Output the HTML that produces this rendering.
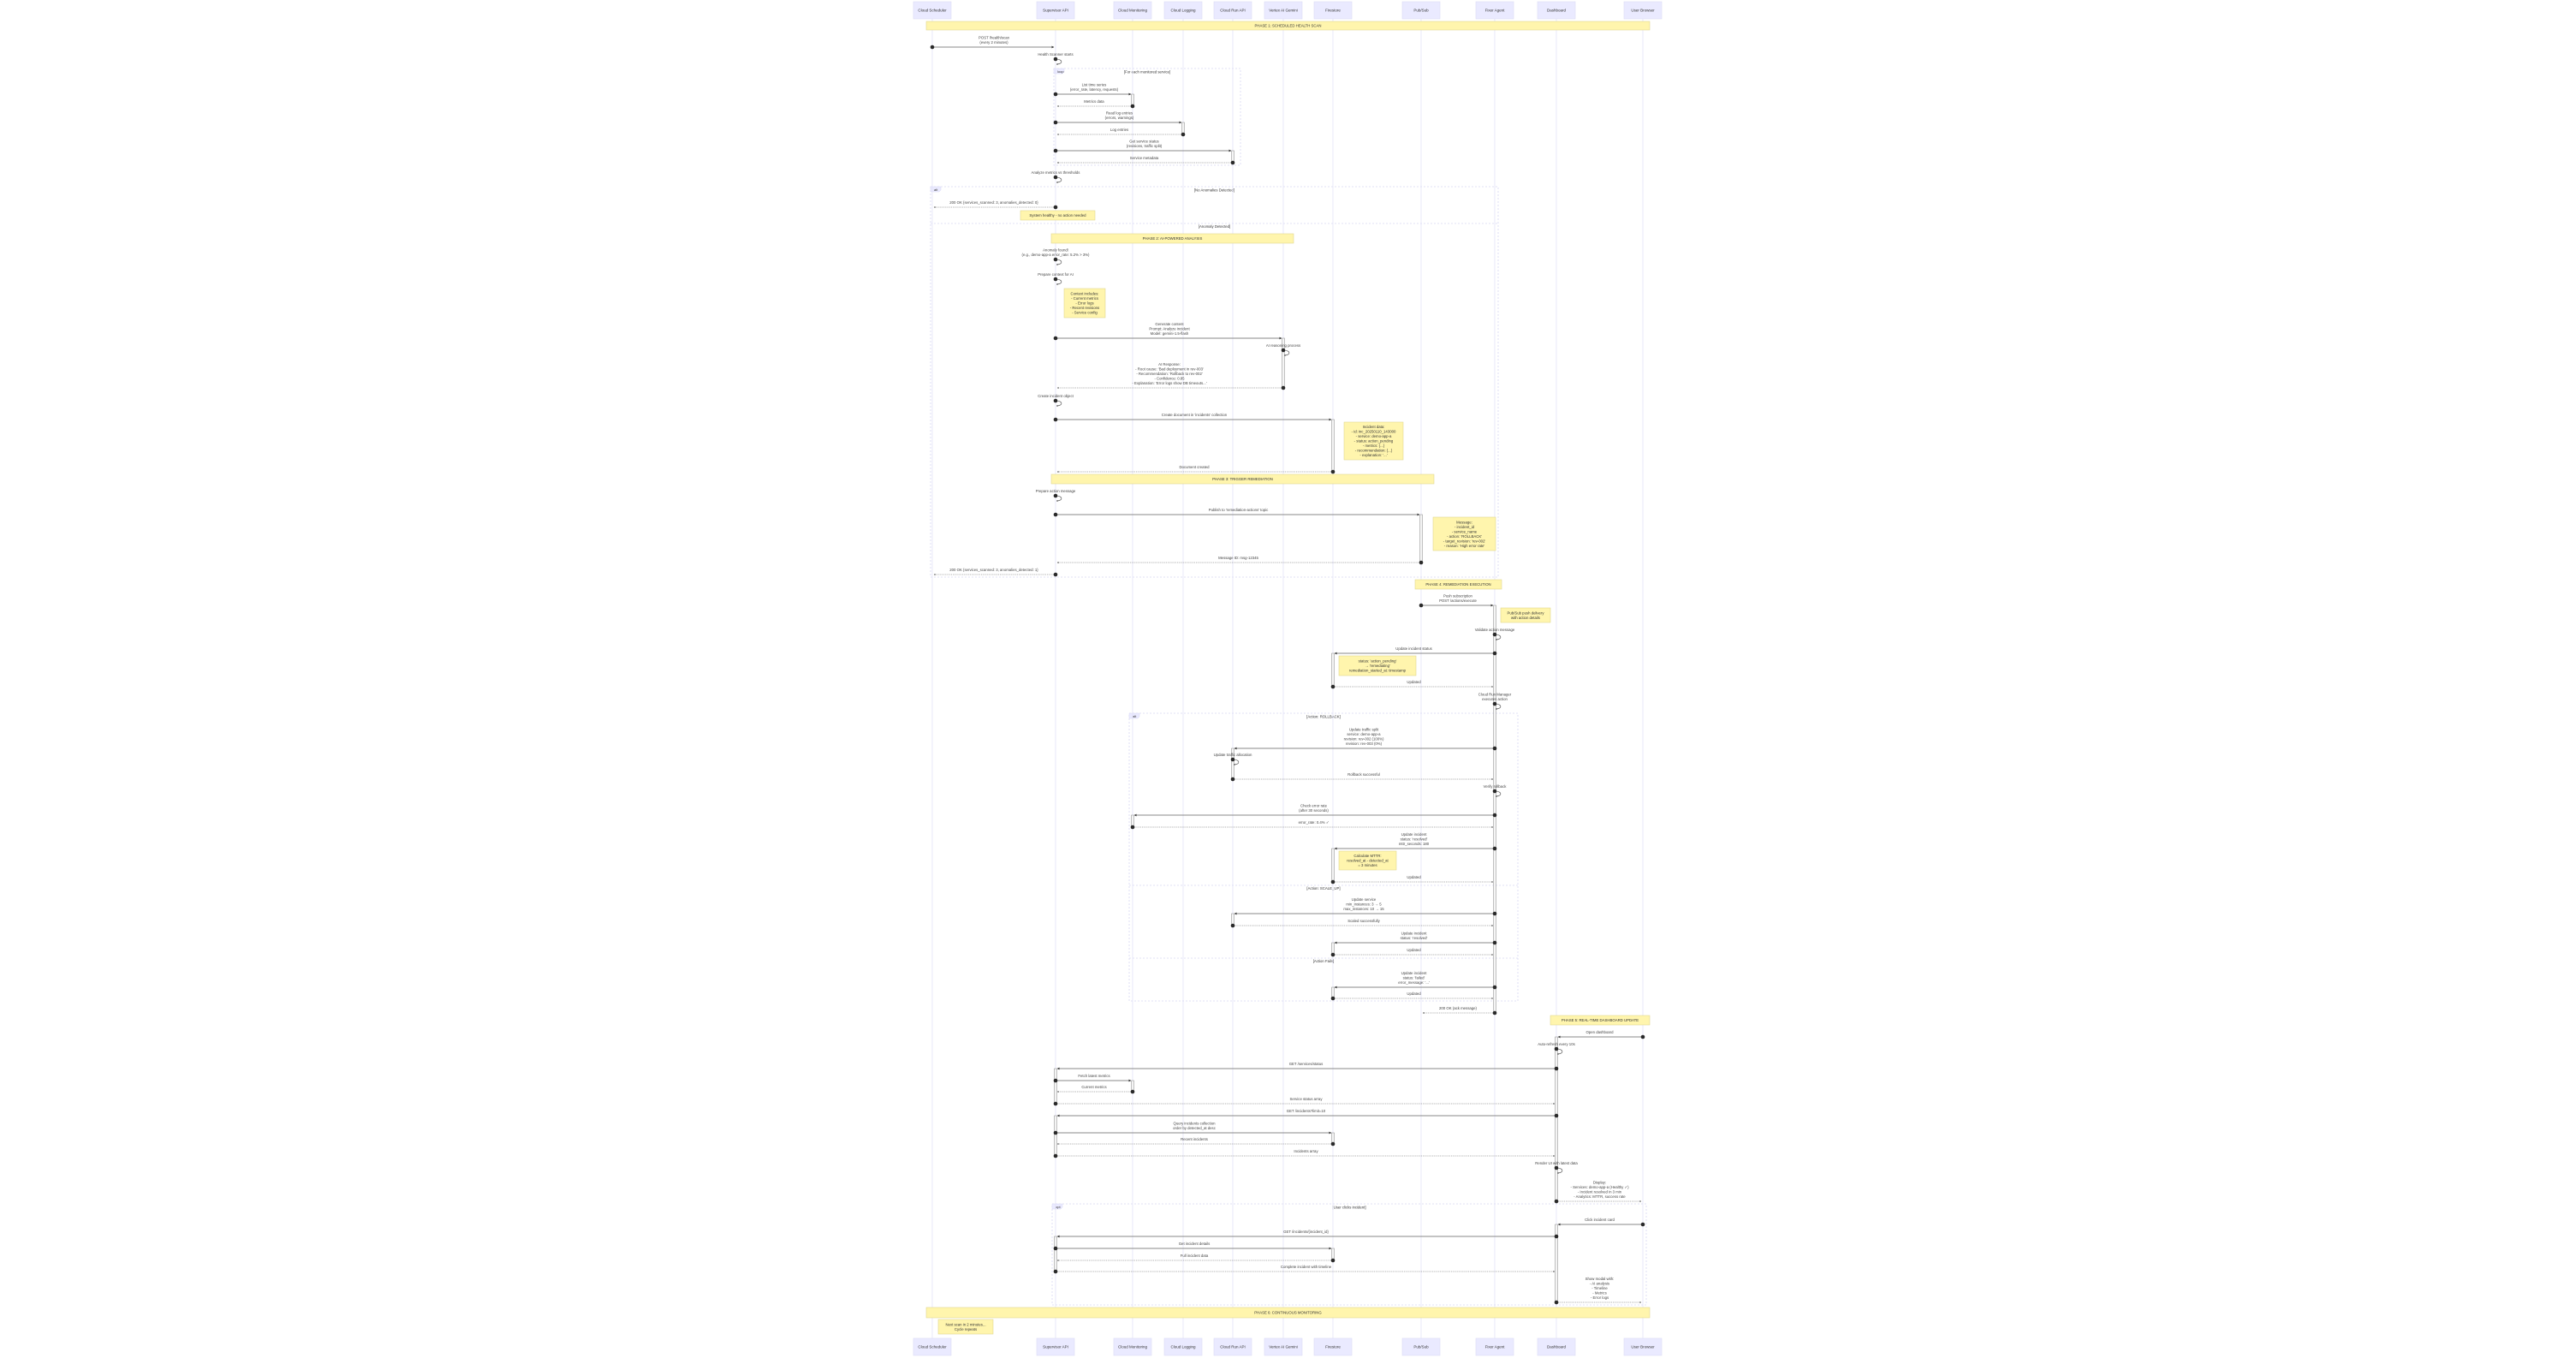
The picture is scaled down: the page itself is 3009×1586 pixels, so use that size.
<!DOCTYPE html>
<html><head><meta charset="utf-8">
<style>
html,body{margin:0;padding:0;background:#fff;}
svg{display:block;}
text{font-family:"Liberation Sans",sans-serif;}
</style></head>
<body>
<svg id="d" width="3009" height="1586" viewBox="0 0 3009 1586" xmlns="http://www.w3.org/2000/svg">
<defs>
<marker id="ah" viewBox="0 0 10 10" refX="9" refY="5" markerWidth="3" markerHeight="3" orient="auto"><path d="M0,0 L10,5 L0,10 z" fill="#333"/></marker>
</defs>
</svg>
<script>
const participantKeys=["sched","sup","mon","log","run","vtx","fs","ps","fix","dash","br"];
const participantNames=["Cloud Scheduler","Supervisor API","Cloud Monitoring","Cloud Logging","Cloud Run API","Vertex AI Gemini","Firestore","Pub/Sub","Fixer Agent","Dashboard","User Browser"];
const participantX=[1089,1233,1323,1382,1440,1499,1557,1660,1746,1818,1919];

const messages=[
["sched","sup",55,["POST /health/scan","(every 2 minutes)"],"s"],
["sup","mon",110,["List time series","(error_rate, latency, requests)"],"s"],
["mon","sup",124,["Metrics data"],"d"],
["sup","log",143,["Read log entries","(errors, warnings)"],"s"],
["log","sup",157,["Log entries"],"d"],
["sup","run",176,["Get service status","(revisions, traffic split)"],"s"],
["run","sup",190,["Service metadata"],"d"],
["sup","sched",242,["200 OK {services_scanned: 3, anomalies_detected: 0}"],"d"],
["sup","vtx",395,["Generate content","Prompt: Analyze incident","Model: gemini-1.5-flash"],"s"],
["vtx","sup",453,["AI Response:","- Root cause: 'Bad deployment in rev-003'","- Recommendation: 'Rollback to rev-002'","- Confidence: 0.85","- Explanation: 'Error logs show DB timeouts...'"],"d"],
["sup","fs",490,["Create document in 'incidents' collection"],"s"],
["fs","sup",551,["Document created"],"d"],
["sup","ps",601,["Publish to 'remediation-actions' topic"],"s"],
["ps","sup",657,["Message ID: msg-12345"],"d"],
["sup","sched",671,["200 OK {services_scanned: 3, anomalies_detected: 1}"],"d"],
["ps","fix",707,["Push subscription","POST /actions/execute"],"s"],
["fix","fs",763,["Update incident status"],"s"],
["fs","fix",802,["Updated"],"d"],
["fix","run",874,["Update traffic split","service: demo-app-a","revision: rev-002 (100%)","revision: rev-003 (0%)"],"s"],
["run","fix",910,["Rollback successful"],"d"],
["fix","mon",952,["Check error rate","(after 30 seconds)"],"s"],
["mon","fix",966,["error_rate: 0.4% ✓"],"d"],
["fix","fs",991,["Update incident","status: 'resolved'","mttr_seconds: 180"],"s"],
["fs","fix",1030,["Updated"],"d"],
["fix","run",1067,["Update service","min_instances: 3 → 5","max_instances: 10 → 15"],"s"],
["run","fix",1081,["Scaled successfully"],"d"],
["fix","fs",1101,["Update incident","status: 'resolved'"],"s"],
["fs","fix",1115,["Updated"],"d"],
["fix","fs",1153,["Update incident","status: 'failed'","error_message: '...'"],"s"],
["fs","fix",1166,["Updated"],"d"],
["fix","ps",1183,["200 OK (ack message)"],"d"],
["br","dash",1211,["Open dashboard"],"s"],
["dash","sup",1248,["GET /services/status"],"s"],
["sup","mon",1262,["Fetch latest metrics"],"s"],
["mon","sup",1275,["Current metrics"],"d"],
["sup","dash",1289,["Service status array"],"d"],
["dash","sup",1303,["GET /incidents?limit=10"],"s"],
["sup","fs",1323,["Query incidents collection","order by detected_at desc"],"s"],
["fs","sup",1336,["Recent incidents"],"d"],
["sup","dash",1350,["Incidents array"],"d"],
["dash","br",1403,["Display:","- Services: demo-app-a (Healthy ✓)","- Incident resolved in 3 min","- Analytics: MTTR, success rate"],"d"],
["br","dash",1430,["Click incident card"],"s"],
["dash","sup",1444,["GET /incidents/{incident_id}"],"s"],
["sup","fs",1458,["Get incident details"],"s"],
["fs","sup",1472,["Full incident data"],"d"],
["sup","dash",1485,["Complete incident with timeline"],"d"],
["dash","br",1521,["Show modal with:","- AI analysis","- Timeline","- Metrics","- Error logs"],"d"]
];

const selfCalls=[
["sup",69,["Health Scanner starts"]],
["sup",207,["Analyze metrics vs thresholds"]],
["sup",303,["Anomaly found!","(e.g., demo-app-a error_rate: 5.2% > 3%)"]],
["sup",326,["Prepare context for AI"]],
["vtx",409,["AI reasoning process"]],
["sup",468,["Create incident object"]],
["sup",579,["Prepare action message"]],
["fix",741,["Validate action message"]],
["fix",822,["Cloud Run Manager","executes action"]],
["run",887,["Update traffic allocation"]],
["fix",924,["Verify rollback"]],
["dash",1225,["Auto-refresh every 10s"]],
["dash",1364,["Render UI with latest data"]]
];

const activations=[
["mon",110,124],["log",143,157],["run",176,190],["vtx",395,453],["fs",490,551],["ps",601,657],
["fix",707,1183],["fs",763,802],["run",874,910],["mon",952,966],["fs",991,1030],["run",1067,1081],
["fs",1101,1115],["fs",1153,1166],["dash",1211,1403],["sup",1248,1289],["mon",1262,1275],
["sup",1303,1350],["fs",1323,1336],["dash",1430,1521],["sup",1444,1485],["fs",1458,1472]
];

const notes=[
[1082,25,1927,35,["PHASE 1: SCHEDULED HEALTH SCAN"]],
[1192,246,1279,257,["System healthy - no action needed"]],
[1228,273,1511,284,["PHASE 2: AI-POWERED ANALYSIS"]],
[1243,337,1291,371,["Context includes:","- Current metrics","- Error logs","- Recent revisions","- Service config"]],
[1570,493,1639,537,["Incident data:","- id: inc_20250110_143000","- service: demo-app-a","- status: action_pending","- metrics: {...}","- recommendation: {...}","- explanation: '...'"]],
[1228,554,1675,565,["PHASE 3: TRIGGER REMEDIATION"]],
[1674,604,1747,643,["Message:","- incident_id","- service_name","- action: 'ROLLBACK'","- target_revision: 'rev-002'","- reason: 'High error rate'"]],
[1653,677,1754,688,["PHASE 4: REMEDIATION EXECUTION"]],
[1753,710,1811,727,["Pub/Sub push delivery","with action details"]],
[1564,766,1654,789,["status: 'action_pending'","→ 'remediating'","remediation_started_at: timestamp"]],
[1564,994,1631,1016,["Calculate MTTR:","resolved_at - detected_at","= 3 minutes"]],
[1811,1186,1927,1197,["PHASE 5: REAL-TIME DASHBOARD UPDATE"]],
[1082,1527,1927,1539,["PHASE 6: CONTINUOUS MONITORING"]],
[1096,1541,1160,1558,["Next scan in 2 minutes...","Cycle repeats"]]
];

const frames=[
[1231,80,1449,193,"loop","[For each monitored service]"],
[1087,218,1750,674,"alt","[No Anomalies Detected]"],
[1319,833,1773,1169,"alt","[Action: ROLLBACK]"],
[1229,1406,1923,1524,"opt","[User clicks incident]"]
];
const dividers=[
[1087,1750,261,"[Anomaly Detected]"],
[1319,1773,1034,"[Action: SCALE_UP]"],
[1319,1773,1119,"[Action Fails]"]
];

const NS="http://www.w3.org/2000/svg";
const svg=document.getElementById("d");
function px(k){return participantX[participantKeys.indexOf(k)];}
function mk(tag,attrs,parent){const e=document.createElementNS(NS,tag);for(const a in attrs)e.setAttribute(a,attrs[a]);(parent||svg).appendChild(e);return e;}
function txt(x,y,s,size,fill,anchor,parent){const t=mk("text",{x:x,y:y,"font-size":size,fill:fill,"text-anchor":anchor||"middle","dominant-baseline":"central"},parent);t.textContent=s;return t;}

frames.forEach(f=>{
  const g=mk("g",{});
  
  
  mk("rect",{x:f[0],y:f[1],width:f[2]-f[0],height:f[3]-f[1],fill:"none",stroke:"#d8d8f4","stroke-width":0.8,"stroke-dasharray":"2,2"},g);
  mk("path",{d:`M${f[0]},${f[1]} h12 v4 l-2,2 h-10 z`,fill:"#eaeaff",stroke:"#d8d8f4","stroke-width":0.5},g);
  txt(f[0]+4,f[1]+3.5,f[4],4,"#333","start",g);
  txt((f[0]+f[2])/2,f[1]+4,f[5],4.3,"#333","middle",g);
});
dividers.forEach(d=>{
  const g=mk("g",{});
  
  
  mk("line",{x1:d[0],x2:d[1],y1:d[2],y2:d[2],stroke:"#d8d8f4","stroke-width":0.8,"stroke-dasharray":"2,2"},g);
  txt((d[0]+d[1])/2,d[2]+3.5,d[3],4.3,"#333","middle",g);
});

participantKeys.forEach((k,i)=>{
  const x=participantX[i];
  const l=mk("line",{x1:x,x2:x,y1:22,y2:1563,stroke:"#e2e2f8","stroke-width":0.8});
  
  
  [2,1563].forEach((y,j)=>{
    const g=mk("g",{});
    
    
    mk("rect",{x:x-22,y:y,width:44,height:20,fill:"#eaeaff",stroke:"#dcdcf6","stroke-width":0.6},g);
    txt(x,y+10,participantNames[i],4.5,"#333","middle",g);
  });
});

activations.forEach(a=>{
  const x=px(a[0]);
  const r=mk("rect",{x:x-1.5,y:a[1],width:3,height:a[2]-a[1],fill:"#f4f4f4",stroke:"#888","stroke-width":0.5});
  
  
});

notes.forEach(n=>{
  const g=mk("g",{});
  
  
  mk("rect",{x:n[0],y:n[1],width:n[2]-n[0],height:n[3]-n[1],fill:"#fff5ad",stroke:"#e0d890","stroke-width":0.6},g);
  const lines=n[4],cy=(n[1]+n[3])/2,sp=5.5;
  lines.forEach((s,i)=>txt((n[0]+n[2])/2,cy+(i-(lines.length-1)/2)*sp,s,4.3,"#333","middle",g));
});

messages.forEach(m=>{
  const g=mk("g",{});
  
  
  const x1=px(m[0]),x2=px(m[1]),y=m[2];
  const dir=x2>x1?1:-1;
  const attrs={x1:x1,x2:x2-dir*2,y1:y,y2:y,stroke:m[4]==="s"?"#888":"#666","stroke-width":m[4]==="s"?1:0.6,"marker-end":"url(#ah)"};
  if(m[4]==="d")attrs["stroke-dasharray"]="1.2,1";
  mk("line",attrs,g);
  mk("circle",{cx:x1,cy:y,r:2.3,fill:"#2a2a2a"},g);
  const lines=m[3],n=lines.length;
  lines.forEach((s,i)=>txt((x1+x2)/2,y-5.5-(n-1-i)*5.5,s,4.3,"#444","middle",g));
});

selfCalls.forEach(s=>{
  const g=mk("g",{});
  
  
  const x=px(s[0]),y=s[1];
  mk("path",{d:`M${x},${y} C${x+9},${y} ${x+9},${y+6} ${x+1},${y+6}`,fill:"none",stroke:"#555","stroke-width":0.6,"marker-end":"url(#ah)"},g);
  mk("circle",{cx:x,cy:y,r:2.3,fill:"#2a2a2a"},g);
  const lines=s[2],n=lines.length;
  lines.forEach((t,i)=>txt(x,y-5.5-(n-1-i)*5.5,t,4.3,"#444","middle",g));
});
</script>
</body></html>
